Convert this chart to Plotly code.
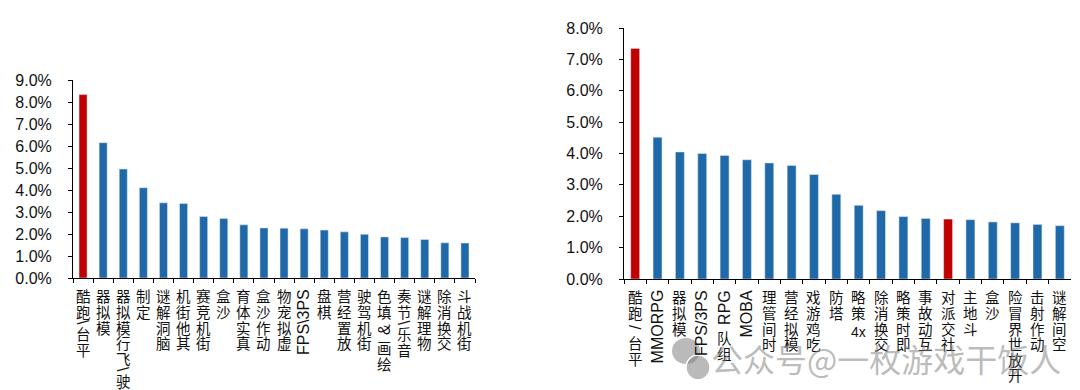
import plotly.graph_objects as go

# ---------------- data ----------------
left_categories = ["平台\\跑酷", "模拟器", "驾驶\\飞行模拟器", "定制", "脑洞解谜", "其他街机", "街机竞赛",
                   "沙盒", "真实体育", "动作沙盒", "虚拟宠物", "FPS\\3PS", "棋盘", "放置经营", "街机驾驶",
                   "绘画 & 填色", "音乐\\节奏", "物理解谜", "交换消除", "街机战斗"]
left_values = [8.35, 6.16, 4.96, 4.11, 3.42, 3.39, 2.80, 2.71, 2.42, 2.28, 2.27, 2.24, 2.18, 2.10,
               1.99, 1.87, 1.84, 1.75, 1.60, 1.59]
left_highlight = [0]

right_categories = ["平台 / 跑酷", "MMORPG", "模拟器", "FPS/3PS", "组队 RPG", "MOBA", "时间管理", "模拟经营",
                    "吃鸡游戏", "塔防", "4x 策略", "交换消除", "即时策略", "互动故事", "社交派对", "斗地主",
                    "沙盒", "开放世界冒险", "动作射击", "空间解谜"]
right_values = [7.35, 4.52, 4.05, 4.00, 3.94, 3.80, 3.70, 3.62, 3.33, 2.70, 2.35, 2.18, 1.99, 1.93,
                1.91, 1.89, 1.82, 1.79, 1.74, 1.70]
right_highlight = [0, 14]

left_yticks = [0, 1, 2, 3, 4, 5, 6, 7, 8, 9]
right_yticks = [0, 1, 2, 3, 4, 5, 6, 7, 8]

BLUE = "#1f69a8"
RED = "#c00000"
W, H = 1080, 390
LAT = "Liberation Sans, Arial, sans-serif"
CJK = "Noto Sans CJK SC"

fig = go.Figure()


def colors(n, hl):
    return [RED if i in hl else BLUE for i in range(n)]


fig.add_trace(go.Bar(x=left_categories, y=left_values, marker_color=colors(len(left_values), left_highlight),
                     xaxis="x", yaxis="y", width=0.4, showlegend=False, hoverinfo="x+y"))
fig.add_trace(go.Bar(x=right_categories, y=right_values, marker_color=colors(len(right_values), right_highlight),
                     xaxis="x2", yaxis="y2", width=0.4, showlegend=False, hoverinfo="x+y"))

axis_common = dict(showline=True, linecolor="black", linewidth=1, showgrid=False, zeroline=False,
                   ticks="outside", ticklen=4, tickcolor="black", automargin=False)
ylab = dict(tickfont=dict(family=LAT, size=16, color="#111"), ticklabelstandoff=13)

fig.update_layout(
    width=W, height=H, margin=dict(l=0, r=0, t=0, b=0, autoexpand=False),
    plot_bgcolor="white", paper_bgcolor="white",
    font=dict(family=LAT, size=15, color="#222"),
    xaxis=dict(domain=[65 / W, 467 / W], anchor="y", type="category", showticklabels=False,
               tickson="boundaries", **axis_common),
    yaxis=dict(domain=[(H - 270) / H, (H - 72.3) / H], anchor="x", range=[0, 9], tickvals=left_yticks,
               ticktext=[f"{v:.1f}%" for v in left_yticks], **ylab, **axis_common),
    xaxis2=dict(domain=[616 / W, 1063 / W], anchor="y2", type="category", showticklabels=False,
                tickson="boundaries", **axis_common),
    yaxis2=dict(domain=[(H - 271) / H, (H - 20) / H], anchor="x2", range=[0, 8], tickvals=right_yticks,
                ticktext=[f"{v:.1f}%" for v in right_yticks], **ylab, **axis_common),
)

# ---------- vertical East-Asian style category labels (upright CJK, rotated Latin, read bottom-up) ----------
LAT_W = {"M": .833, "O": .778, "R": .722, "P": .667, "G": .778, "B": .667, "A": .667, "F": .611,
         "S": .667, "3": .556, "\\": .278, "/": .278, "&": .667}
LAT_SIZE = 16
CJK_SIZE = 14.5
PITCH = 15.6


def segments(label):
    segs, run = [], ""
    for ch in label:
        if ch.isascii() and ch != " ":
            run += ch
            continue
        if run:
            segs.append(run)
            run = ""
        segs.append(ch)
    if run:
        segs.append(run)
    return segs


def add_labels(cats, xref, yref):
    for cat in cats:
        offset = 10
        for seg in reversed(segments(cat)):
            if seg == " ":
                offset += 4
                continue
            if not seg.isascii():
                length, angle, fam, size = PITCH, 0, CJK, CJK_SIZE
            elif seg == "4x":
                length, angle, fam, size = PITCH, 0, LAT, 14
            else:
                length = sum(LAT_W.get(c, .6) for c in seg) * LAT_SIZE + 2
                angle, fam, size = -90, LAT, LAT_SIZE
            fig.add_annotation(x=cat, y=0, xref=xref, yref=yref, text=seg, showarrow=False,
                               textangle=angle, xanchor="center", yanchor="middle",
                               yshift=-(offset + length / 2), borderpad=0,
                               font=dict(family=fam, size=size, color="#111"))
            offset += length


add_labels(left_categories, "x", "y")
add_labels(right_categories, "x2", "y2")

# watermark (WeChat-style icon + account name)
WM = "rgba(130,130,130,0.55)"
fig.add_shape(type="circle", xref="paper", yref="paper", x0=664 / W, x1=692 / W,
              y0=(H - 356) / H, y1=(H - 330) / H, fillcolor=WM, line_width=0, layer="above")
fig.add_shape(type="circle", xref="paper", yref="paper", x0=678 / W, x1=702 / W,
              y0=(H - 372) / H, y1=(H - 347) / H, fillcolor=WM, line=dict(color="white", width=1.5),
              layer="above")
fig.add_annotation(x=878 / W, y=(H - 350) / H, xref="paper", yref="paper", text="公众号@一枚游戏干饭人",
                   showarrow=False, xanchor="center", yanchor="middle",
                   font=dict(family=CJK, size=32, color=WM))

fig.write_html("out.html")
